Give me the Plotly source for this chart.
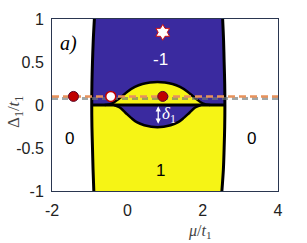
import plotly.graph_objects as go

# ---- data ----
bound_y = [-1.0, -0.75, -0.5, -0.25, 0.0, 0.25, 0.5, 0.75, 1.0]
left_x = [-0.89, -0.91, -0.925, -0.94, -0.945, -0.94, -0.925, -0.905, -0.875]
right_x = [2.51, 2.55, 2.57, 2.585, 2.59, 2.585, 2.57, 2.555, 2.53]

dome_x = [-0.6, -0.4, -0.2, 0.0, 0.2, 0.4, 0.6, 0.8, 1.0, 1.2, 1.4, 1.6, 1.8, 2.0, 2.2]
dome_y = [0.0, 0.02, 0.08, 0.155, 0.21, 0.245, 0.262, 0.268, 0.262, 0.245, 0.21, 0.155, 0.08, 0.02, 0.0]

lens_x = [-0.35, -0.2, -0.05, 0.1, 0.25, 0.45, 0.8, 1.15, 1.35, 1.5, 1.65, 1.8, 1.95]
lens_y = [0.0, -0.03, -0.09, -0.15, -0.2, -0.235, -0.258, -0.235, -0.2, -0.15, -0.09, -0.03, 0.0]

gray_dash_y = 0.075
orange_dash_y = 0.10

red_pts_x = [-1.43, 0.94]
red_pts_y = [0.10, 0.10]
white_pts_x = [-0.44]
white_pts_y = [0.10]
star_x = [0.94]
star_y = [0.845]

region_labels = [("-1", 0.87, 0.53, "white"), ("0", -1.54, -0.39, "black"),
                 ("0", 3.30, -0.39, "black"), ("1", 0.89, -0.76, "black")]

x_ticks = [-2, 0, 2, 4]
y_ticks = [-1, -0.5, 0, 0.5, 1]
y_tick_text = ["-1", "-0.5", "0", "0.5", "1"]

BLUE = "#3a2a9f"
YELLOW = "#f6f415"

fig = go.Figure()

# upper blue region
ux = [left_x[i] for i in range(4, 9)] + [right_x[i] for i in range(8, 3, -1)]
uy = [bound_y[i] for i in range(4, 9)] + [bound_y[i] for i in range(8, 3, -1)]
fig.add_trace(go.Scatter(x=ux, y=uy, fill="toself", fillcolor=BLUE, mode="none",
                         hoverinfo="skip"))
# lower yellow region
lx = [left_x[i] for i in range(0, 5)] + [right_x[i] for i in range(4, -1, -1)]
ly = [bound_y[i] for i in range(0, 5)] + [bound_y[i] for i in range(4, -1, -1)]
fig.add_trace(go.Scatter(x=lx, y=ly, fill="toself", fillcolor=YELLOW, mode="none",
                         hoverinfo="skip"))
# dome (yellow) and lens (blue)
fig.add_trace(go.Scatter(x=dome_x, y=dome_y, fill="toself", fillcolor=YELLOW,
                         mode="lines", line=dict(color="black", width=2.5, shape="spline"),
                         hoverinfo="skip"))
fig.add_trace(go.Scatter(x=lens_x, y=lens_y, fill="toself", fillcolor=BLUE,
                         mode="lines", line=dict(color="black", width=2.5, shape="spline"),
                         hoverinfo="skip"))
# zero line between boundaries
fig.add_trace(go.Scatter(x=[left_x[4], right_x[4]], y=[0, 0], mode="lines",
                         line=dict(color="black", width=3), hoverinfo="skip"))
# boundaries
fig.add_trace(go.Scatter(x=left_x, y=bound_y, mode="lines",
                         line=dict(color="black", width=3, shape="spline"), hoverinfo="skip"))
fig.add_trace(go.Scatter(x=right_x, y=bound_y, mode="lines",
                         line=dict(color="black", width=3, shape="spline"), hoverinfo="skip"))
# dashed lines
fig.add_trace(go.Scatter(x=[-2, 4], y=[gray_dash_y, gray_dash_y], mode="lines",
                         line=dict(color="rgba(110,120,120,0.65)", width=3, dash="6px,4px"),
                         hoverinfo="skip"))
fig.add_trace(go.Scatter(x=[-2, 4], y=[orange_dash_y, orange_dash_y], mode="lines",
                         line=dict(color="#e8925c", width=2.5, dash="7px,4px"),
                         hoverinfo="skip"))
# markers
fig.add_trace(go.Scatter(x=red_pts_x, y=red_pts_y, mode="markers",
                         marker=dict(color="#c00000", size=10, line=dict(color="#5a0a2a", width=1)),
                         hoverinfo="skip"))
fig.add_trace(go.Scatter(x=white_pts_x, y=white_pts_y, mode="markers",
                         marker=dict(color="white", size=10, line=dict(color="#c00000", width=1.5)),
                         hoverinfo="skip"))
fig.add_trace(go.Scatter(x=star_x, y=star_y, mode="markers",
                         marker=dict(symbol="hexagram", color="white", size=12,
                                     line=dict(color="#d01010", width=1)),
                         hoverinfo="skip"))

ann = []
for t, x, y, c in region_labels:
    ann.append(dict(x=x, y=y, xref="x", yref="y", text=t, showarrow=False,
                    font=dict(family="Liberation Sans, Arial", size=17, color=c)))
ann.append(dict(x=-1.56, y=0.72, xref="x", yref="y", text="<i>a)</i>", showarrow=False,
                font=dict(family="Liberation Serif, serif", size=20, color="black")))
# delta arrow
ann.append(dict(x=0.82, y=-0.015, ax=0.82, ay=-0.235, xref="x", yref="y", axref="x", ayref="y",
                text="", showarrow=True, arrowhead=2, arrowside="end+start", arrowsize=0.8,
                arrowwidth=1.3, arrowcolor="white"))
ann.append(dict(x=1.1, y=-0.115, xref="x", yref="y", text="<i>δ</i><sub>1</sub>", showarrow=False,
                font=dict(family="Liberation Serif, serif", size=17, color="white")))
# axis titles
ann.append(dict(x=(200 - 52) / 226, y=-(231 - 191) / 172, xref="paper", yref="paper",
                text="<i>μ</i>/<i>t</i><sub>1</sub>", showarrow=False,
                font=dict(family="Liberation Serif, serif", size=16, color="#444"),
                xanchor="center", yanchor="middle"))
ann.append(dict(x=-(52 - 15) / 226, y=(191 - 112) / 172, xref="paper", yref="paper",
                text="Δ<sub>1</sub>/<i>t</i><sub>1</sub>", showarrow=False, textangle=-90,
                font=dict(family="Liberation Serif, serif", size=17, color="#444"),
                xanchor="center", yanchor="middle"))

fig.update_layout(
    width=307, height=243,
    margin=dict(l=52, r=29, t=19, b=52),
    paper_bgcolor="white", plot_bgcolor="white",
    showlegend=False,
    annotations=ann,
    xaxis=dict(range=[-2, 4], tickvals=x_ticks, ticktext=[str(v) for v in x_ticks],
               showgrid=False, zeroline=False, showline=True, mirror=True,
               linecolor="#2a3650", linewidth=1, ticks="", ticklabelstandoff=5,
               tickfont=dict(family="Liberation Sans, Arial", size=16, color="#222")),
    yaxis=dict(range=[-1, 1], tickvals=y_ticks, ticktext=y_tick_text,
               showgrid=False, zeroline=False, showline=True, mirror=True,
               linecolor="#2a3650", linewidth=1, ticks="", ticklabelstandoff=4,
               tickfont=dict(family="Liberation Sans, Arial", size=16, color="#222")),
)

fig.write_html("out.html", config={"displayModeBar": False},
               post_script="document.body.style.margin='0';")
